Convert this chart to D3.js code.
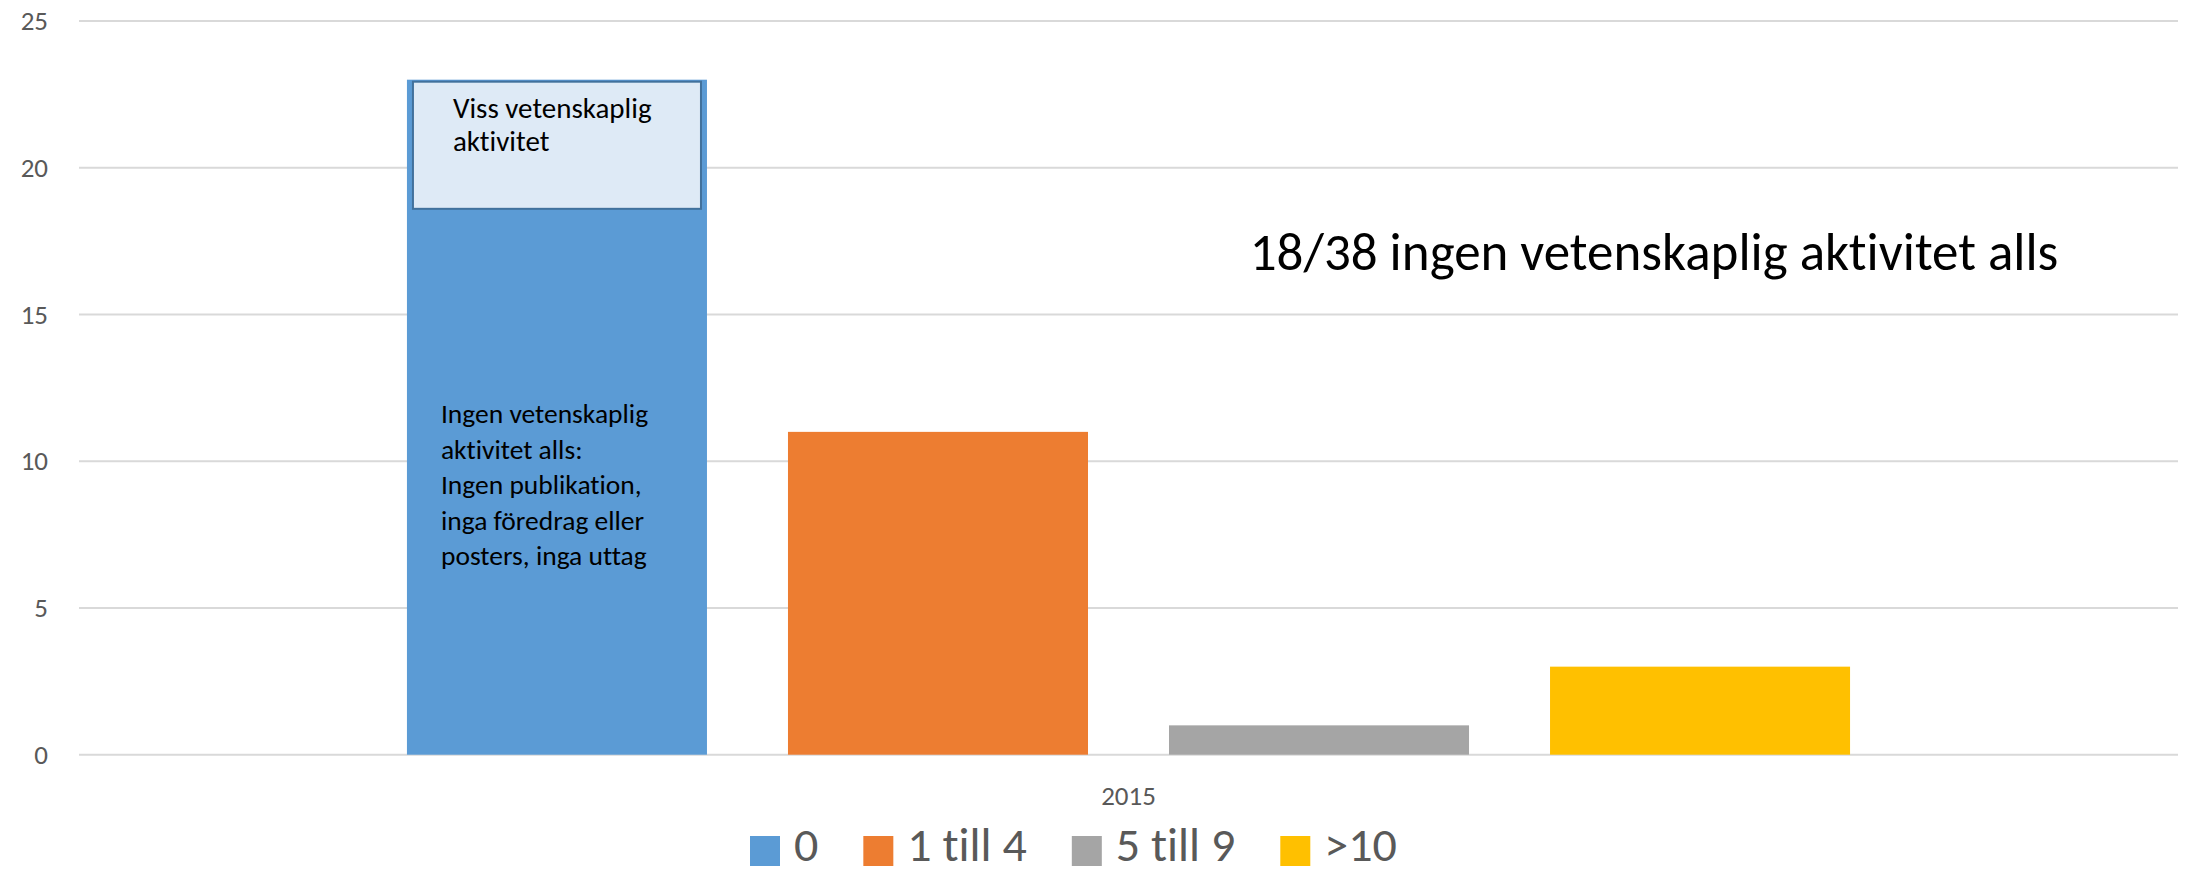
<!DOCTYPE html>
<html>
<head>
<meta charset="utf-8">
<script src="https://cdn.jsdelivr.net/npm/d3@7"></script>
<style>
  html, body { margin: 0; padding: 0; background: #fff; }
  svg { display: block; font-family: Carlito, Calibri, Lato, "Open Sans", sans-serif; font-variant-ligatures: none; }
  text { font-variant-ligatures: none; font-feature-settings: "liga" 0, "clig" 0; }
</style>
</head>
<body>
<svg id="chart" width="2190" height="873"></svg>
<script>
// ---- data ----
const categories = ["2015"];
const seriesNames = ["0", "1 till 4", "5 till 9", ">10"];
const seriesValues = [23, 11, 1, 3];
const seriesColors = ["#5B9BD5", "#ED7D31", "#A5A5A5", "#FFC000"];
const yTicks = [0, 5, 10, 15, 20, 25];
const boxLines = ["Viss vetenskaplig", "aktivitet"];
const boxExtent = [23, 18.6];
const barLines = ["Ingen vetenskaplig", "aktivitet alls:", "Ingen publikation,", "inga föredrag eller", "posters, inga uttag"];
const barLinesStart = 11.3;
const noteText = "18/38 ingen vetenskaplig aktivitet alls";
const noteValue = 16.5;

// ---- layout ----
const plot = { left: 79, right: 2178, top: 21, bottom: 754.7 };
const svg = d3.select("#chart");

const y = d3.scaleLinear().domain([0, 25]).range([plot.bottom, plot.top]);
const x0 = d3.scaleBand().domain(categories).range([plot.left, plot.right])
  .paddingInner(0).paddingOuter(0.1886);
const x1 = d3.scaleBand().domain(seriesNames).range([0, x0.bandwidth()])
  .paddingInner(0.2126).paddingOuter(0.1063);

// gridlines
svg.append("g").selectAll("line").data(yTicks).join("line")
  .attr("x1", plot.left).attr("x2", plot.right)
  .attr("y1", d => y(d)).attr("y2", d => y(d))
  .attr("stroke", "#d9d9d9").attr("stroke-width", 2);

// y axis labels
const yAxis = d3.axisLeft(y).tickValues(yTicks).tickSize(0).tickPadding(0);
const yg = svg.append("g").attr("transform", `translate(48,0)`).call(yAxis);
yg.select(".domain").remove();
yg.selectAll("text").attr("fill", "#595959").style("font-size", "27px")
  .style("font-family", "Carlito, Calibri, Lato, sans-serif");

// bars
const data = seriesNames.map((s, i) => ({ s, v: seriesValues[i], c: seriesColors[i], cat: categories[0] }));
svg.append("g").selectAll("rect").data(data).join("rect")
  .attr("x", d => x0(d.cat) + x1(d.s))
  .attr("width", x1.bandwidth())
  .attr("y", d => y(d.v))
  .attr("height", d => y(0) - y(d.v))
  .attr("fill", d => d.c);

// x axis label
const xAxis = d3.axisBottom(x0).tickSize(0).tickPadding(0);
const xg = svg.append("g").attr("transform", `translate(0,${y(0) + 50})`).call(xAxis);
xg.select(".domain").remove();
xg.selectAll("text").attr("fill", "#595959").attr("dy", 0).style("font-size", "27px")
  .style("font-family", "Carlito, Calibri, Lato, sans-serif");

// annotation box on top of the first bar
const bx = x0(categories[0]) + x1(seriesNames[0]);
svg.append("rect")
  .attr("x", bx + 6).attr("y", y(boxExtent[0]) + 2)
  .attr("width", x1.bandwidth() - 12)
  .attr("height", y(boxExtent[1]) - y(boxExtent[0]) - 2)
  .attr("fill", "#DEEAF6").attr("stroke", "#41719C").attr("stroke-width", 2);
svg.append("g").selectAll("text").data(boxLines).join("text")
  .attr("x", bx + 46).attr("y", (d, i) => y(boxExtent[0]) + 38 + i * 33)
  .attr("fill", "#000").style("font-size", "29px").text(d => d);

// text inside bar
svg.append("g").selectAll("text").data(barLines).join("text")
  .attr("x", bx + 34).attr("y", (d, i) => y(barLinesStart) + i * 35.5)
  .attr("fill", "#000").style("font-size", "27.5px").text(d => d);

// big note
svg.append("text")
  .attr("x", x0(categories[0]) + x1(">10") + x1.bandwidth() / 2 - 46)
  .attr("y", y(noteValue))
  .attr("text-anchor", "middle")
  .attr("fill", "#000").style("font-size", "53px").text(noteText);

// legend
const legend = svg.append("g");
let lx = 750;
data.forEach(d => {
  legend.append("rect").attr("x", lx).attr("y", 836).attr("width", 30).attr("height", 30).attr("fill", d.c);
  const t = legend.append("text").attr("x", lx + 44).attr("y", 861)
    .attr("fill", "#595959").style("font-size", "48px").text(d.s);
  lx += 44 + t.node().getComputedTextLength() + 45;
});
</script>
</body>
</html>
